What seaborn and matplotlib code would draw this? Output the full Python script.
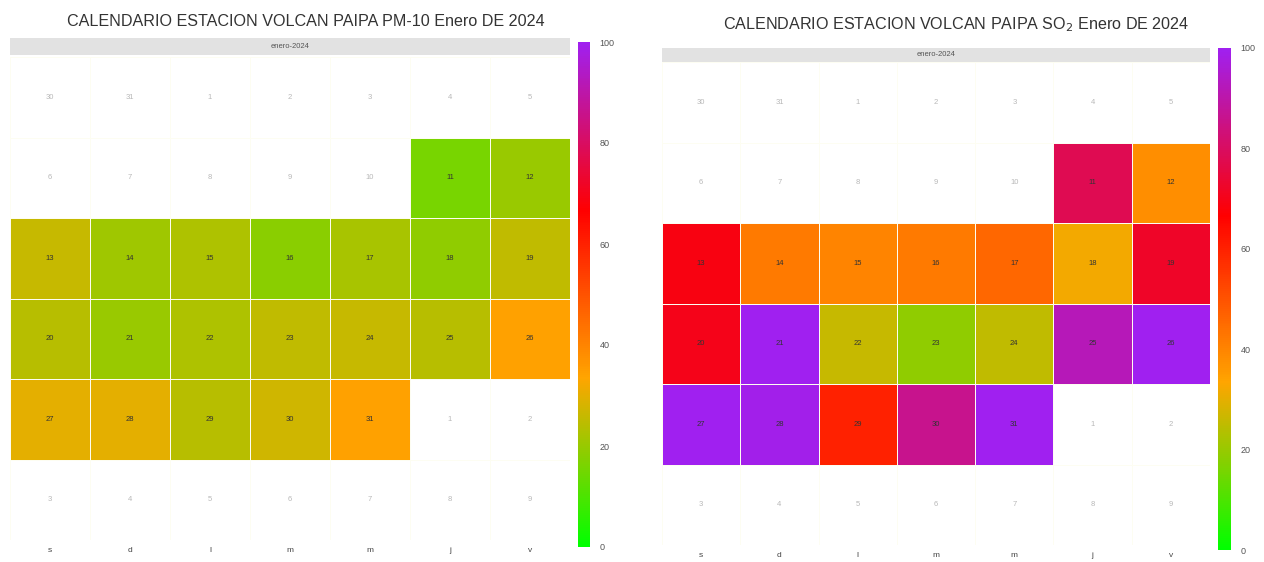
import numpy as np
import pandas as pd
import matplotlib
matplotlib.use("Agg")
import matplotlib.pyplot as plt
import seaborn as sns
from matplotlib.colors import LinearSegmentedColormap

# Datos diarios (11 al 31 de enero de 2024)
fechas = pd.date_range("2024-01-11", "2024-01-31", freq="D")
pm10 = [16, 20, 26, 21, 23, 18, 22, 19, 25, 24, 20, 23, 25, 26, 24, 34, 30, 30, 24, 27, 34]
so2 = [78, 38, 69, 42, 40, 42, 46, 32, 72, 70, 105, 26, 19, 25, 92, 110, 108, 99, 60, 86, 104]

dias_semana = ["s", "d", "l", "m", "m", "j", "v"]
ticks_barra = [0, 20, 40, 60, 80, 100]
colores = ["#00FF00", "#FFA500", "#FF0000", "#A020F0"]
mes = "enero-2024"

# calendario de 6 semanas empezando en sábado
calendario = pd.date_range("2023-12-30", periods=42, freq="D")

cmap = LinearSegmentedColormap.from_list("calendario", colores)

W, H = 1264, 562
fig = plt.figure(figsize=(W / 100, H / 100), dpi=100)
plt.rcParams["font.family"] = ["Liberation Sans", "DejaVu Sans"]


def caja(x0, y0, x1, y1):
    # pixeles -> fraccion de figura
    return [x0 / W, 1 - y1 / H, (x1 - x0) / W, (y1 - y0) / H]


def panel(valores, titulo, p_heat, p_strip, p_cbar, p_titulo):
    serie = pd.Series(valores, index=fechas)
    matriz = serie.reindex(calendario).to_numpy().reshape(6, 7)

    ax = fig.add_axes(caja(*p_heat))
    cax = fig.add_axes(caja(*p_cbar))
    sns.heatmap(
        matriz,
        ax=ax,
        cbar_ax=cax,
        cmap=cmap,
        vmin=0,
        vmax=100,
        linewidths=0.7,
        linecolor="#fdfdf2",
        xticklabels=False,
        yticklabels=False,
    )
    # numero del dia en cada celda
    for i, fecha in enumerate(calendario):
        fila, col = divmod(i, 7)
        con_dato = fecha in serie.index
        ax.text(
            col + 0.5,
            fila + 0.5,
            str(fecha.day),
            ha="center",
            va="center",
            fontsize=5.5,
            color="#333333" if con_dato else "#b8b8b8",
        )
    ax.set_xticks(np.arange(7) + 0.5)
    ax.set_xticklabels(dias_semana, fontsize=6, color="#444444")
    ax.tick_params(axis="x", length=0, pad=5)
    ax.set_xlabel("")
    ax.set_ylabel("")

    cax.set_yticks(ticks_barra)
    cax.set_yticklabels([str(t) for t in ticks_barra])
    cax.tick_params(length=0, labelsize=6.5, colors="#555555", pad=7)

    # franja gris con el mes
    sax = fig.add_axes(caja(*p_strip))
    sax.set_facecolor("#e2e2e2")
    sax.set_xticks([])
    sax.set_yticks([])
    for s in sax.spines.values():
        s.set_visible(False)
    sax.text(0.5, 0.5, mes, ha="center", va="center", fontsize=5.5, color="#555555")

    fig.text(p_titulo[0] / W, 1 - p_titulo[1] / H, titulo, ha="center", va="center",
             fontsize=11.6, color="#333333")


panel(pm10, "CALENDARIO ESTACION VOLCAN PAIPA PM-10 Enero DE 2024",
      (10, 57, 570, 540), (10, 38, 570, 55), (578, 42, 590, 547), (306, 22))
panel(so2, "CALENDARIO ESTACION VOLCAN PAIPA SO$_2$ Enero DE 2024",
      (662, 62, 1210, 545), (662, 48, 1210, 62), (1218, 48, 1231, 550), (956, 25))

fig.savefig("out.png", dpi=100, facecolor="white")
